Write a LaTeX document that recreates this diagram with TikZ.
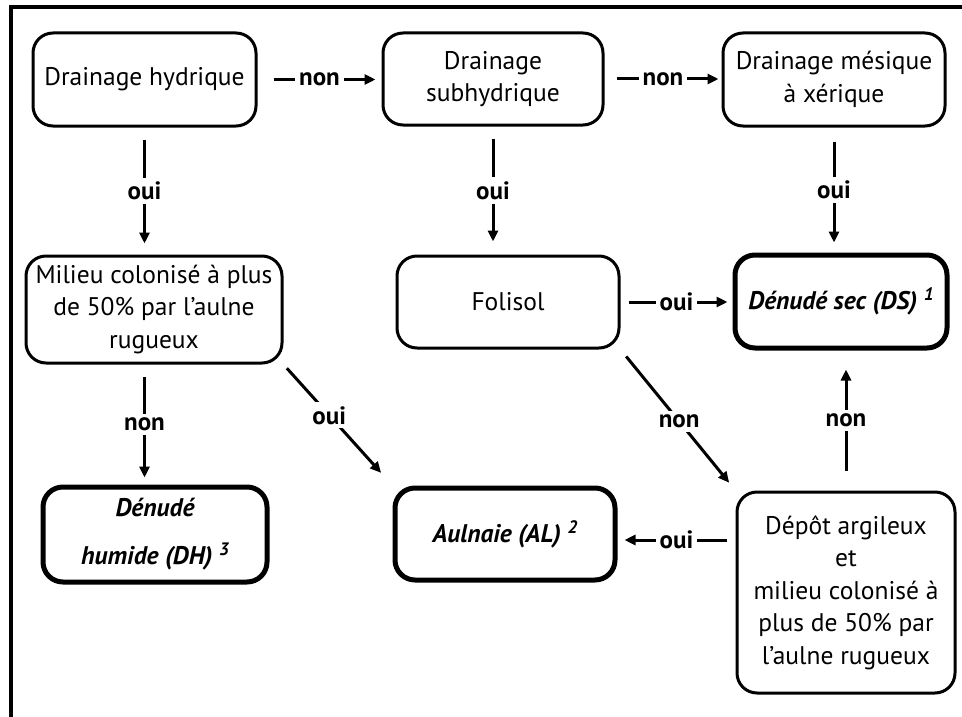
\documentclass[tikz,border=0pt]{standalone}
\usepackage{fontspec}
\setmainfont{PT Sans}
\usetikzlibrary{arrows.meta,calc}
\begin{document}
\begin{tikzpicture}[x=1pt,y=-1pt,
  box/.style={draw, rounded corners=20pt, line width=3pt, align=center, inner sep=0pt, font=\fontsize{25.5}{32.5}\selectfont},
  endbox/.style={box, line width=5pt},
  arr/.style={line width=3pt, -{Triangle[length=11pt,width=10pt]}},
  lbl/.style={fill=white, inner sep=4pt, font=\fontsize{25}{28}\selectfont\bfseries}
]
\useasboundingbox (0,0) rectangle (962,717);
\draw[line width=4pt] (11,717) -- (11,7) -- (962,7);

\node[box, minimum width=223pt, minimum height=93pt] (h1) at (144.5,79.5) {Drainage hydrique};
\node[box, minimum width=220pt, minimum height=92pt] (h2) at (493,79) {Drainage\\subhydrique};
\node[box, minimum width=222pt, minimum height=93pt] (h3) at (834,79.5) {Drainage mésique\\à xérique};
\node[box, minimum width=256pt, minimum height=107pt] (mil) at (154,309.5) {Milieu colonisé à plus\\de 50\% par l’aulne\\rugueux};
\node[box, minimum width=222pt, minimum height=92pt] (fol) at (508,302) {Folisol};
\node[endbox, minimum width=212pt, minimum height=93pt, font=\fontsize{25.5}{32}\selectfont\bfseries\itshape] (ds) at (841,301.5) {Dénudé sec (DS) \raisebox{9pt}{\fontsize{18}{18}\selectfont 1}};
\node[endbox, minimum width=224pt, minimum height=95pt, font=\fontsize{25.5}{48}\selectfont\bfseries\itshape] (dh) at (155,534.5) {Dénudé\\humide (DH) \raisebox{9pt}{\fontsize{18}{18}\selectfont 3}};
\node[endbox, minimum width=220pt, minimum height=92pt, font=\fontsize{25.5}{32}\selectfont\bfseries\itshape] (al) at (505,534) {Aulnaie (AL) \raisebox{9pt}{\fontsize{18}{18}\selectfont 2}};
\node[box, minimum width=218pt, minimum height=201pt] (dep) at (846,592.5) {Dépôt argileux\\et\\milieu colonisé à\\plus de 50\% par\\l’aulne rugueux};

% horizontal top
\draw[arr, shorten <=16pt, shorten >=6pt] (h1.east) -- (h1.east -| h2.west) node[lbl, pos=0.5] {non};
\draw[arr, shorten <=12pt, shorten >=3pt] (h2.east) -- (h2.east -| h3.west) node[lbl, pos=0.5] {non};
% verticals
\draw[arr, shorten <=12pt, shorten >=11pt] (h1.south) -- (h1.south |- mil.north) node[lbl, pos=0.5] {oui};
\draw[arr, shorten <=12pt, shorten >=13pt] (h2.south) -- (h2.south |- fol.north) node[lbl, pos=0.5] {oui};
\draw[arr, shorten <=14pt, shorten >=10pt] (h3.south) -- (h3.south |- ds.north) node[lbl, pos=0.5] {oui};
\draw[arr, shorten <=12pt, shorten >=7pt] (mil.south -| h1.south) -- (dh.north -| h1.south) node[lbl, pos=0.5] {non};
\draw[arr, shorten <=20pt, shorten >=19pt] (dep.north) -- (dep.north |- ds.south) node[lbl, pos=0.5] {non};
% horizontal middle
\draw[arr, shorten <=8pt, shorten >=5pt] (fol.east) -- (fol.east -| ds.west) node[lbl, pos=0.5] {oui};
\draw[arr, shorten <=9pt, shorten >=7pt] ($(dep.west |- al.east)+(0,6)$) -- ($(al.east)+(0,6)$) node[lbl, pos=0.5] {oui};
% diagonals
\draw[arr, shorten <=5pt, shorten >=17pt] (mil.south east) -- (al.north west) node[lbl, pos=0.42] {oui};
\draw[arr, shorten <=9pt, shorten >=10pt] (fol.south east) -- (dep.north west) node[lbl, pos=0.51] {non};
\end{tikzpicture}
\end{document}
